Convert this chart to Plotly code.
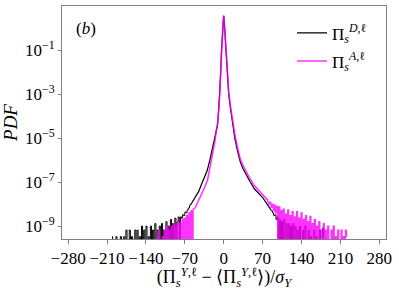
import plotly.graph_objects as go

# ---------------- data ----------------
# Pi_s^{D,l}  (black)
x_D_left_tail = list(range(-201, -62, 2))
pdf_D_left_tail = [3.3e-10, 0, 0, 0, 3.3e-10, 0, 0, 0, 3.3e-10, 0,
                   0, 3.3e-10, 0, 6.6e-10, 0, 0, 6.6e-10, 0, 3.3e-10, 0,
                   0, 6.6e-10, 0, 6.6e-10, 0, 3.3e-10, 0, 1e-9, 0, 6.6e-10,
                   0, 1e-9, 0, 3.3e-10, 0, 1e-9, 0, 6.6e-10, 0, 1.3e-9,
                   0, 6.6e-10, 0, 1e-9, 0, 1.3e-9, 0, 6.6e-10, 0, 1.6e-9,
                   0, 1e-9, 0, 2e-9, 0, 1.3e-9, 0, 2.3e-9, 0, 1.6e-9,
                   2.6e-9, 0, 2.6e-9, 2.3e-9, 3.3e-9, 3e-9, 4.3e-9, 4e-9, 5.3e-9, 6.6e-9]
x_D_core = [-60, -55, -50, -45, -40, -35, -30, -25, -20, -15, -11, -9, -7, -5.5, -4, -2.5, -1, 0,
            1, 2.5, 4, 6, 9, 12, 16, 20, 25, 30, 35, 40, 47, 55, 62, 70, 78, 86]
pdf_D_core = [8.9e-9, 1.4e-8, 2.2e-8, 3.8e-8, 8e-8, 1.6e-7, 3.2e-7, 1e-6, 3.5e-6, 1.3e-5, 4.2e-5,
              2e-4, 1e-3, 1e-2, 0.1, 0.5, 2.0, 3.8,
              2.0, 0.45, 0.1, 1e-2, 1e-3, 2.5e-4, 4.2e-5, 1e-5, 2.5e-6, 8e-7, 4e-7, 2.2e-7,
              1.1e-7, 5e-8, 3.2e-8, 2e-8, 1e-8, 5e-9]
x_D_right_tail = list(range(89, 182, 2))
pdf_D_right_tail = [4e-9, 3e-9, 3.3e-9, 2e-9, 2.6e-9, 0, 2e-9, 0, 1.6e-9, 0,
                    2e-9, 0, 1.3e-9, 0, 1.3e-9, 0, 1e-9, 0, 1.3e-9, 0,
                    1e-9, 0, 6.6e-10, 0, 1e-9, 0, 0, 6.6e-10, 0, 1e-9,
                    0, 0, 6.6e-10, 0, 3.3e-10, 0, 0, 6.6e-10, 0, 3.3e-10,
                    0, 0, 6.6e-10, 0, 0, 8e-10, 0]

# Pi_s^{A,l}  (magenta)
x_A_left_tail = list(range(-120, -53, 2))
pdf_A_left_tail = [3.3e-10, 0, 6.6e-10, 0, 0, 3.3e-10, 0, 6.6e-10, 0, 1e-9,
                   0, 6.6e-10, 0, 1e-9, 0, 1.3e-9, 0, 1e-9, 0, 1.6e-9,
                   0, 1.3e-9, 0, 2e-9, 0, 2.3e-9, 0, 3e-9, 0, 4e-9,
                   0, 5e-9, 0, 6e-9]
x_A_core = [-52, -46, -40, -34, -29, -25, -22, -19, -16, -13, -11, -9, -7, -5.5, -4, -2.5, -1, 0,
            1, 2.5, 4, 6, 9, 12, 16, 20, 25, 30, 35, 40, 47, 55, 62, 70, 78]
pdf_A_core = [6.3e-9, 1.3e-8, 2.5e-8, 6e-8, 1.3e-7, 4.5e-7, 1e-6, 2.5e-6, 7e-6, 2.5e-5, 5e-5,
              2.2e-4, 1e-3, 1e-2, 0.1, 0.5, 2.2, 3.9,
              2.2, 0.5, 0.13, 1.3e-2, 1.3e-3, 3e-4, 6e-5, 1.5e-5, 3.5e-6, 1.1e-6, 5.5e-7, 3e-7,
              1.5e-7, 7e-8, 4.5e-8, 2.8e-8, 1.6e-8]
x_A_right_tail = list(range(80, 223, 2))
pdf_A_right_tail = [1.3e-8, 1e-8, 1.2e-8, 7e-9, 1e-8, 5e-9, 9e-9, 4e-9, 8e-9, 0,
                    7.5e-9, 0, 5e-9, 0, 6e-9, 0, 3.5e-9, 0, 5.5e-9, 0,
                    3e-9, 0, 4.5e-9, 0, 2.6e-9, 0, 4.5e-9, 0, 2.3e-9, 0,
                    4e-9, 0, 2e-9, 0, 3e-9, 0, 1.6e-9, 0, 2.8e-9, 0,
                    1.3e-9, 0, 2e-9, 0, 1e-9, 0, 1.6e-9, 0, 6.6e-10, 0,
                    1.3e-9, 0, 6.6e-10, 0, 1e-9, 0, 0, 6.6e-10, 0, 1e-9,
                    0, 3.3e-10, 0, 6.6e-10, 0, 0, 6.6e-10, 0, 3.3e-10, 0,
                    6.6e-10, 3.3e-10]

x_ticks = [-280, -210, -140, -70, 0, 70, 140, 210, 280]
y_tick_vals = [1e-1, 1e-3, 1e-5, 1e-7, 1e-9]
y_tick_text = ["10<sup>\u22121</sup>", "10<sup>\u22123</sup>", "10<sup>\u22125</sup>",
               "10<sup>\u22127</sup>", "10<sup>\u22129</sup>"]

FLOOR = 1e-14  # empty bins drop below the axis, as in the original


def clip(vals):
    return [v if v > 0 else FLOOR for v in vals]


FONT = "Liberation Serif"
BLACK = dict(color="black", width=1.2)
MAGENTA = dict(color="rgba(255,0,255,0.8)", width=1.6)
BLACK_T = dict(color="black", width=1.0)
MAGENTA_T = dict(color="rgba(255,0,255,0.8)", width=1.2)
name_D = "\u03a0<sub><i>s</i></sub><sup><i>D</i>,\u2113</sup>"
name_A = "\u03a0<sub><i>s</i></sub><sup><i>A</i>,\u2113</sup>"

fig = go.Figure()
# black: noisy tails drawn as histogram steps, core as a line
fig.add_trace(go.Scatter(x=x_D_left_tail + x_D_core[:1], y=clip(pdf_D_left_tail + pdf_D_core[:1]),
                         mode="lines", line=dict(shape="hvh", **BLACK_T),
                         legendgroup="D", showlegend=False, hoverinfo="skip"))
fig.add_trace(go.Scatter(x=x_D_core[-1:] + x_D_right_tail, y=clip(pdf_D_core[-1:] + pdf_D_right_tail),
                         mode="lines", line=dict(shape="hvh", **BLACK_T),
                         legendgroup="D", showlegend=False, hoverinfo="skip"))
fig.add_trace(go.Scatter(x=x_D_core, y=clip(pdf_D_core), mode="lines", line=BLACK,
                         legendgroup="D", name=name_D))
# magenta
fig.add_trace(go.Scatter(x=x_A_left_tail + x_A_core[:1], y=clip(pdf_A_left_tail + pdf_A_core[:1]),
                         mode="lines", line=dict(shape="hvh", **MAGENTA_T),
                         legendgroup="A", showlegend=False, hoverinfo="skip"))
fig.add_trace(go.Scatter(x=x_A_core[-1:] + x_A_right_tail, y=clip(pdf_A_core[-1:] + pdf_A_right_tail),
                         mode="lines", line=dict(shape="hvh", **MAGENTA_T),
                         legendgroup="A", showlegend=False, hoverinfo="skip"))
fig.add_trace(go.Scatter(x=x_A_core, y=clip(pdf_A_core), mode="lines", line=MAGENTA,
                         legendgroup="A", name=name_A))

fig.update_layout(
    width=399, height=290,
    margin=dict(l=62, r=13, t=5, b=49),
    plot_bgcolor="white", paper_bgcolor="white",
    font=dict(family=FONT, size=16, color="black"),
    showlegend=True,
    legend=dict(x=0.71, y=0.96, xanchor="left", yanchor="top",
                bgcolor="rgba(0,0,0,0)", font=dict(size=17),
                itemwidth=30, tracegroupgap=3),
    xaxis=dict(range=[-291, 292], tickvals=x_ticks, ticks="outside", ticklen=4,
               tickcolor="#808080", showline=True, linecolor="#808080", linewidth=1,
               mirror=True, showgrid=False, zeroline=False,
               tickfont=dict(size=17),
               title=dict(text="(\u03a0<sub><i>s</i></sub><sup><i>Y</i>,\u2113</sup> \u2212 "
                               "\u27e8\u03a0<sub><i>s</i></sub><sup><i>Y</i>,\u2113</sup>\u27e9)/"
                               "<i>\u03c3</i><sub><i>Y</i></sub>",
                          font=dict(size=18), standoff=4)),
    yaxis=dict(type="log", range=[-9.59, 1.03], tickvals=y_tick_vals, ticktext=y_tick_text,
               ticks="outside", ticklen=3, tickcolor="#808080", showline=True,
               linecolor="#808080", linewidth=1, mirror=True, showgrid=False,
               zeroline=False, tickfont=dict(size=17),
               title=dict(text="<i>PDF</i>", font=dict(size=19), standoff=2)),
    annotations=[dict(text="(<i>b</i>)", x=0.074, y=0.905, xref="paper", yref="paper",
                      showarrow=False, font=dict(size=17), xanchor="center", yanchor="middle")],
)

fig.write_html("out.html", config={"displayModeBar": False},
               post_script="document.body.style.margin='0';")
